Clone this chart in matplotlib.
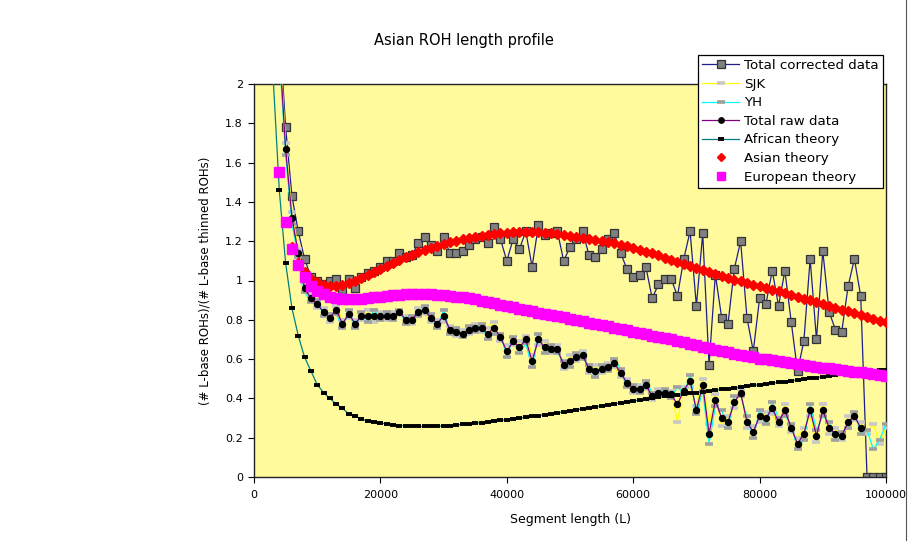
import matplotlib
matplotlib.use('Agg')
import matplotlib.pyplot as plt
from matplotlib.lines import Line2D
from matplotlib.ticker import FormatStrFormatter

nan = float('nan')

# segment lengths (L), one point per 1000 bases
segment_length = list(range(4000, 100001, 1000))
african_length = list(range(3000, 100001, 1000))
asian_length = list(range(6000, 100001, 1000))

# Total corrected data, 4k .. 100k
total_corrected = [
    2.3, 1.78, 1.43, 1.25, 1.11, 1.02, 1.00, 0.98, 1.00, 1.01,
    0.95, 1.01, 0.96, 1.02, 1.04, 1.05, 1.07, 1.10, 1.10, 1.14,
    1.12, 1.13, 1.19, 1.22, 1.18, 1.15, 1.22, 1.14, 1.14, 1.15,
    1.18, 1.21, 1.22, 1.19, 1.27, 1.21, 1.10, 1.21, 1.16, 1.25,
    1.07, 1.28, 1.23, 1.24, 1.25, 1.10, 1.17, 1.21, 1.25, 1.13,
    1.12, 1.16, 1.21, 1.24, 1.14, 1.06, 1.02, 1.03, 1.07, 0.91,
    0.98, 1.01, 1.01, 0.92, 1.11, 1.25, 0.87, 1.24, 0.57, 1.03,
    0.81, 0.78, 1.06, 1.20, 0.81, 0.64, 0.91, 0.88, 1.05, 0.87,
    1.05, 0.79, 0.54, 0.69, 1.11, 0.70, 1.15, 0.84, 0.75, 0.74,
    0.97, 1.11, 0.92, 0.0, 0.0, 0.0, 0.0,
]

sjk = [
    2.25, 1.70, 1.35, 1.16, 0.98, 0.93, 0.86, 0.86, 0.79, 0.87,
    0.80, 0.81, 0.80, 0.80, 0.85, 0.79, 0.84, 0.80, 0.84, 0.83,
    0.82, 0.78, 0.86, 0.83, 0.79, 0.80, 0.79, 0.77, 0.72, 0.75,
    0.73, 0.78, 0.74, 0.76, 0.79, 0.69, 0.67, 0.67, 0.69, 0.72,
    0.62, 0.67, 0.69, 0.63, 0.67, 0.55, 0.62, 0.59, 0.64, 0.53,
    0.57, 0.53, 0.58, 0.56, 0.51, 0.50, 0.43, 0.47, 0.45, 0.39,
    0.45, 0.41, 0.44, 0.28, 0.46, 0.46, 0.36, 0.50, 0.27, 0.42,
    0.26, 0.31, 0.35, 0.45, 0.25, 0.26, 0.28, 0.33, 0.32, 0.26,
    0.37, 0.23, 0.20, 0.25, 0.31, 0.18, 0.37, 0.22, 0.25, 0.19,
    0.31, 0.29, 0.28, 0.22, 0.27, 0.17, 0.25,
]

yh = [
    2.15, 1.64, 1.29, 1.12, 0.94, 0.89, 0.90, 0.82, 0.83, 0.83,
    0.76, 0.85, 0.76, 0.84, 0.79, 0.85, 0.80, 0.84, 0.80, 0.85,
    0.78, 0.82, 0.82, 0.87, 0.83, 0.76, 0.85, 0.73, 0.76, 0.71,
    0.77, 0.74, 0.78, 0.70, 0.73, 0.73, 0.61, 0.71, 0.63, 0.68,
    0.56, 0.73, 0.63, 0.67, 0.63, 0.59, 0.56, 0.63, 0.60, 0.57,
    0.51, 0.57, 0.54, 0.60, 0.55, 0.46, 0.47, 0.43, 0.49, 0.43,
    0.41, 0.45, 0.40, 0.46, 0.42, 0.52, 0.32, 0.44, 0.17, 0.36,
    0.34, 0.25, 0.41, 0.41, 0.31, 0.20, 0.34, 0.27, 0.38, 0.30,
    0.31, 0.27, 0.14, 0.19, 0.37, 0.24, 0.31, 0.28, 0.19, 0.23,
    0.25, 0.33, 0.22, 0.24, 0.14, 0.19, 0.27,
]

total_raw = [
    2.2, 1.67, 1.32, 1.14, 0.96, 0.91, 0.88, 0.84, 0.81, 0.85,
    0.78, 0.83, 0.78, 0.82, 0.82, 0.82, 0.82, 0.82, 0.82, 0.84,
    0.80, 0.80, 0.84, 0.85, 0.81, 0.78, 0.82, 0.75, 0.74, 0.73,
    0.75, 0.76, 0.76, 0.73, 0.76, 0.71, 0.64, 0.69, 0.66, 0.70,
    0.59, 0.70, 0.66, 0.65, 0.65, 0.57, 0.59, 0.61, 0.62, 0.55,
    0.54, 0.55, 0.56, 0.58, 0.53, 0.48, 0.45, 0.45, 0.47, 0.41,
    0.43, 0.43, 0.42, 0.37, 0.44, 0.49, 0.34, 0.47, 0.22, 0.39,
    0.30, 0.28, 0.38, 0.43, 0.28, 0.23, 0.31, 0.30, 0.35, 0.28,
    0.34, 0.25, 0.17, 0.22, 0.34, 0.21, 0.34, 0.25, 0.22, 0.21,
    0.28, 0.31, 0.25, nan, nan, nan, nan,
]

# African theory, 3k .. 100k
african_theory = [
    2.05, 1.46, 1.09, 0.86, 0.72, 0.61, 0.54, 0.47, 0.43, 0.40,
    0.37, 0.35, 0.32, 0.31, 0.295, 0.285, 0.28, 0.275, 0.27, 0.265,
    0.262, 0.26, 0.258, 0.257, 0.257, 0.257, 0.258, 0.26, 0.262, 0.265,
    0.268, 0.271, 0.274, 0.277, 0.28, 0.284, 0.288, 0.292, 0.296, 0.30,
    0.304, 0.308, 0.312, 0.317, 0.322, 0.327, 0.332, 0.337, 0.342, 0.347,
    0.352, 0.357, 0.362, 0.367, 0.372, 0.377, 0.382, 0.387, 0.392, 0.397,
    0.402, 0.406, 0.410, 0.414, 0.418, 0.422, 0.426, 0.430, 0.434, 0.438,
    0.442, 0.446, 0.450, 0.454, 0.458, 0.462, 0.466, 0.470, 0.474, 0.478,
    0.482, 0.486, 0.490, 0.494, 0.498, 0.502, 0.506, 0.510, 0.514, 0.518,
    0.522, 0.526, 0.530, 0.534, 0.537, 0.540, 0.543, 0.546,
]

# Asian theory, 6k .. 100k
asian_theory = [
    1.17, 1.09, 1.045, 1.01, 0.99, 0.975, 0.97, 0.97, 0.975, 0.985,
    1.0, 1.015, 1.03, 1.045, 1.06, 1.075, 1.09, 1.105, 1.12, 1.13,
    1.145, 1.155, 1.165, 1.175, 1.185, 1.195, 1.20, 1.21, 1.215, 1.22,
    1.225, 1.23, 1.235, 1.24, 1.24, 1.245, 1.245, 1.245, 1.245, 1.245,
    1.24, 1.24, 1.235, 1.23, 1.225, 1.22, 1.215, 1.21, 1.205, 1.20,
    1.195, 1.19, 1.18, 1.175, 1.165, 1.155, 1.145, 1.14, 1.13, 1.115,
    1.105, 1.095, 1.085, 1.075, 1.065, 1.055, 1.045, 1.035, 1.025, 1.015,
    1.005, 0.995, 0.985, 0.975, 0.97, 0.96, 0.95, 0.945, 0.935, 0.925,
    0.915, 0.905, 0.90, 0.89, 0.88, 0.87, 0.86, 0.85, 0.845, 0.835,
    0.825, 0.815, 0.805, 0.795, 0.79,
]

# European theory, 4k .. 100k
european_theory = [
    1.55, 1.30, 1.16, 1.08, 1.02, 0.97, 0.945, 0.93, 0.915, 0.91,
    0.905, 0.905, 0.905, 0.907, 0.91, 0.914, 0.918, 0.921, 0.924, 0.927,
    0.929, 0.93, 0.93, 0.93, 0.929, 0.927, 0.925, 0.922, 0.918, 0.914,
    0.91, 0.904, 0.898, 0.891, 0.884, 0.877, 0.870, 0.864, 0.857, 0.85,
    0.844, 0.837, 0.831, 0.825, 0.818, 0.812, 0.806, 0.799, 0.793, 0.786,
    0.78, 0.773, 0.766, 0.760, 0.753, 0.746, 0.740, 0.733, 0.726, 0.720,
    0.713, 0.707, 0.70, 0.692, 0.685, 0.677, 0.67, 0.662, 0.655, 0.648,
    0.641, 0.634, 0.627, 0.621, 0.615, 0.609, 0.603, 0.598, 0.593, 0.588,
    0.583, 0.578, 0.574, 0.57, 0.566, 0.562, 0.557, 0.553, 0.549, 0.545,
    0.541, 0.536, 0.532, 0.528, 0.524, 0.519, 0.515,
]

plt.rcParams['font.family'] = ['DejaVu Sans']

fig = plt.figure(figsize=(9.15, 5.41), dpi=100)
ax = fig.add_axes([254 / 915, 1 - 477 / 541, 632 / 915, 393 / 541])
ax.set_facecolor('#FFFB9C')

ax.plot(segment_length, total_corrected, color='#1F1F8C', lw=0.9,
        marker='s', ms=5.8, mfc='#808080', mec='#333333', mew=0.9,
        label='Total corrected data', zorder=2)
ax.plot(segment_length, sjk, color='#FFFF00', lw=0.9,
        marker='_', ms=6, mec='#C8C8C8', mew=2.6,
        label='SJK', zorder=3)
ax.plot(segment_length, yh, color='#00FFFF', lw=0.9,
        marker='_', ms=6, mec='#A0A0A0', mew=2.6,
        label='YH', zorder=4)
ax.plot(segment_length, total_raw, color='#800080', lw=0.9,
        marker='o', ms=4.3, mfc='black', mec='black',
        label='Total raw data', zorder=5)
ax.plot(african_length, african_theory, color='#008080', lw=0.9,
        marker='_', ms=5, mec='black', mew=2.8,
        label='African theory', zorder=6)
ax.plot(asian_length, asian_theory, ls='none',
        marker='D', ms=4.8, mfc='#FF0000', mec='#FF0000',
        label='Asian theory', zorder=7)
ax.plot(segment_length, european_theory, ls='none',
        marker='s', ms=7, mfc='#FF00FF', mec='#FF00FF',
        label='European theory', zorder=8)

ax.set_xlim(0, 100000)
ax.set_ylim(0, 2)
ax.set_xticks(range(0, 100001, 20000))
ax.set_yticks([i / 5 for i in range(11)])
ax.yaxis.set_major_formatter(FormatStrFormatter('%g'))
ax.tick_params(direction='out', length=4, width=0.8, labelsize=8)
ax.tick_params(axis='x', pad=5)
ax.tick_params(axis='y', pad=4)
for s in ax.spines.values():
    s.set_linewidth(1.0)
    s.set_color('#222222')

fig.text(464 / 915, 1 - 40 / 541, 'Asian ROH length profile',
         ha='center', va='center', fontsize=10.5)
ax.set_xlabel('Segment length (L)', fontsize=9, labelpad=10)
ax.set_ylabel('(# L-base ROHs)/(# L-base thinned ROHs)', fontsize=8.5, labelpad=10)

leg = ax.legend(loc='upper left', bbox_to_anchor=(698 / 915, 1 - 55 / 541),
                bbox_transform=fig.transFigure, borderaxespad=0,
                fancybox=False, framealpha=1, edgecolor='black',
                fontsize=9.6, handlelength=2.8, handletextpad=0.35,
                labelspacing=0.42, borderpad=0.3, markerscale=0.9)
leg.get_frame().set_linewidth(0.9)
leg.set_zorder(20)

fig.add_artist(Line2D([906 / 915, 906 / 915], [0, 1], color='#555555', lw=0.8))

fig.savefig('out.png', dpi=100)
